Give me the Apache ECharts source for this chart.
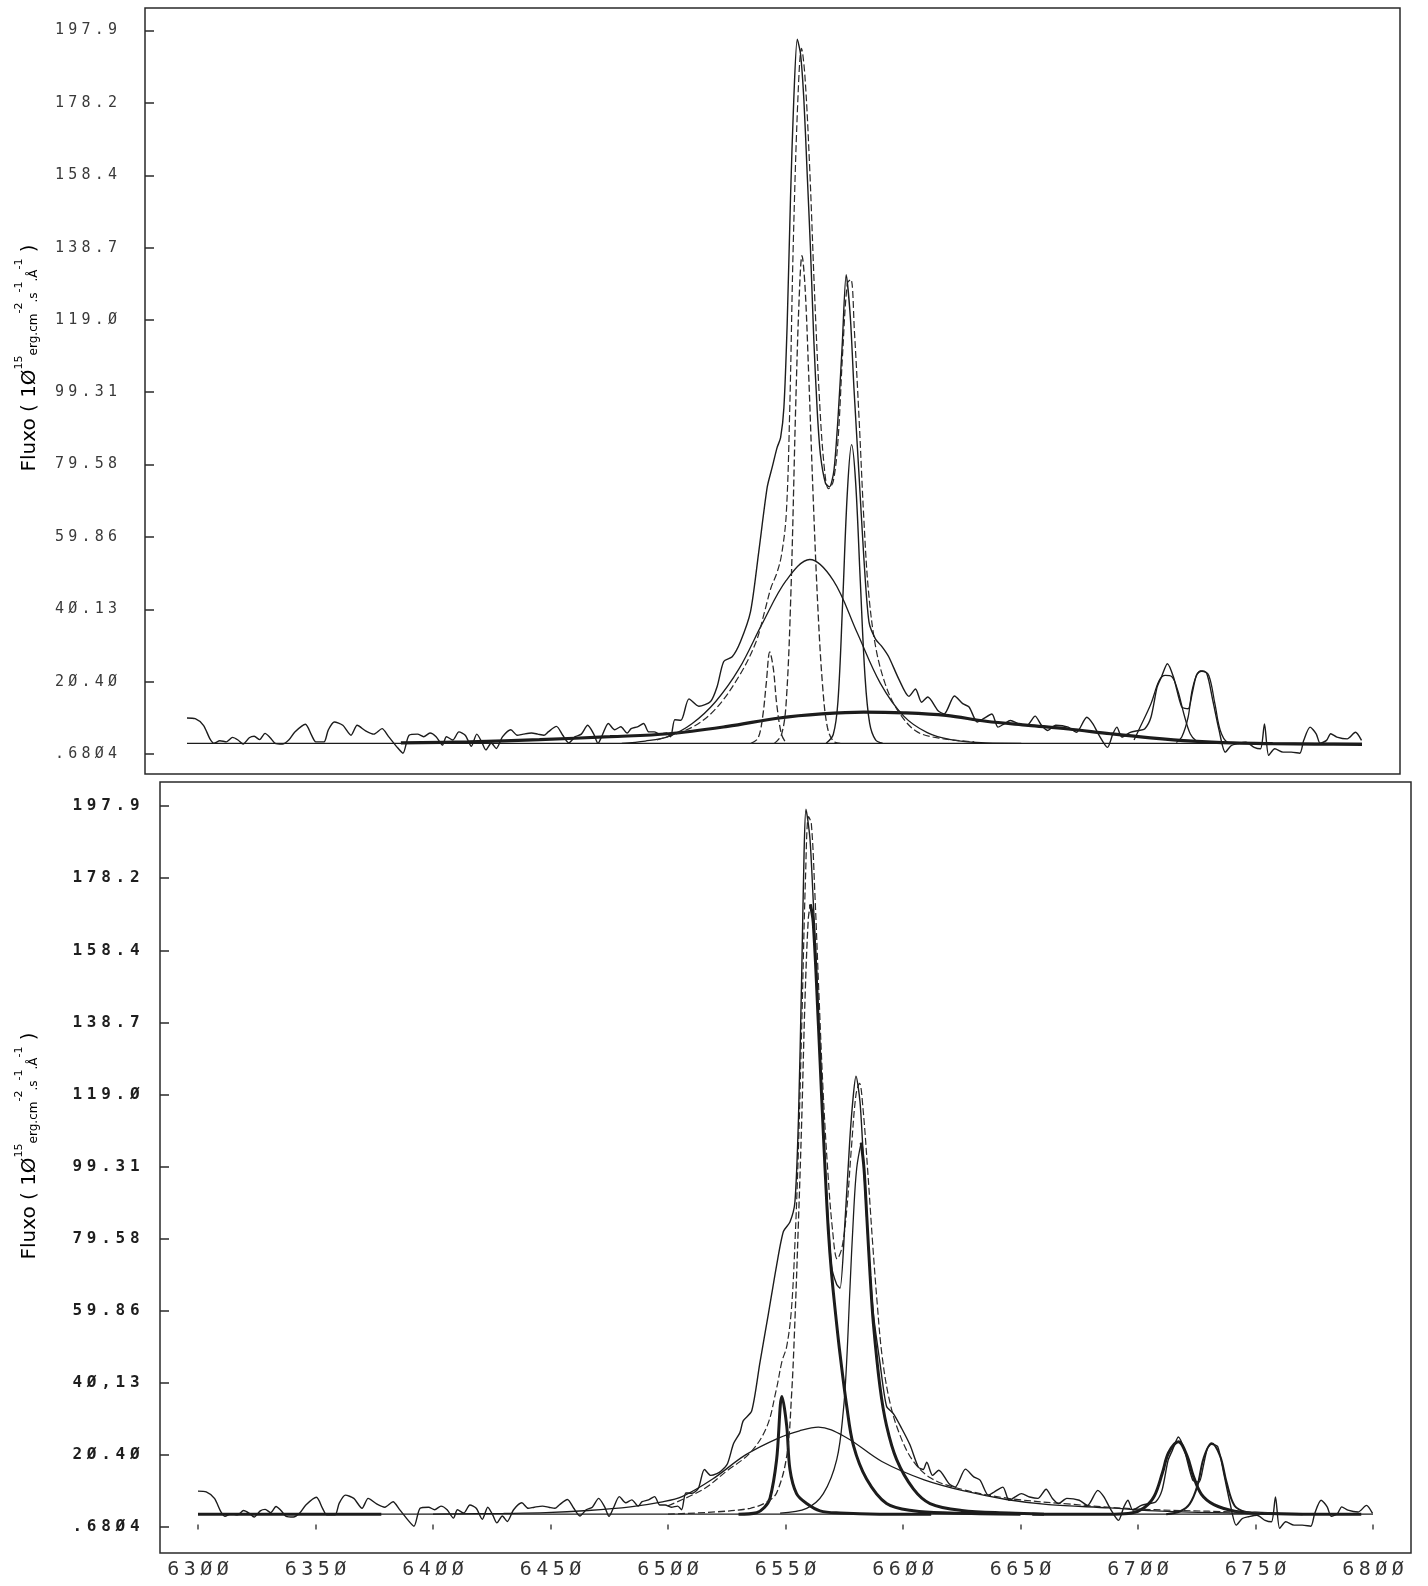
<!DOCTYPE html>
<html>
<head>
<meta charset="utf-8">
<script src="https://cdn.jsdelivr.net/npm/echarts@6/dist/echarts.min.js"></script>
<style>
  html, body { margin: 0; padding: 0; background: #ffffff; }
  #chart { width: 1428px; height: 1586px; }
</style>
</head>
<body>
<div id="chart"></div>
<script>
// ---- tick values and printed tick labels ----
const yTickValues = [0.6804, 20.40, 40.13, 59.86, 79.58, 99.31, 119.0, 138.7, 158.4, 178.2, 197.9];
const yTickTextTop = ['.68Ø4', '2Ø.4Ø', '4Ø.13', '59.86', '79.58', '99.31', '119.Ø', '138.7', '158.4', '178.2', '197.9'];
const yTickTextBottom = ['.68Ø4', '2Ø.4Ø', '4Ø,13', '59.86', '79.58', '99.31', '119.Ø', '138.7', '158.4', '178.2', '197.9'];
const xTickValues = [6300, 6350, 6400, 6450, 6500, 6550, 6600, 6650, 6700, 6750, 6800];
const xTickText = ['63ØØ', '635Ø', '64ØØ', '645Ø', '65ØØ', '655Ø', '66ØØ', '665Ø', '67ØØ', '675Ø', '68ØØ'];

// ---- observed spectrum [wavelength (Å), flux] ----
// blue continuum (same in both fits)
const obsBlue = [[6300,10.5],[6303.5,10.3],[6307,8.5],[6309.7,4.9],[6311.5,3.6],[6314,4.3],[6316.8,4.0],[6319.4,5.2],[6321.7,4.5],[6323.9,3.4],[6326.5,5.1],[6328.6,5.5],[6330.9,4.6],[6333.2,6.3],[6335.3,5.2],[6337.5,3.6],[6340.6,3.4],[6343.3,4.5],[6345.9,6.7],[6350.4,8.8],[6353,5.8],[6354.8,4.0],[6358.3,4.0],[6360.1,7.2],[6362.7,9.4],[6366.3,8.5],[6369.8,5.8],[6372.4,8.5],[6376,7.0],[6379.5,6.1],[6383,7.6],[6385.7,5.5],[6389.2,2.7],[6391.9,0.9],[6394.5,5.8],[6398.1,6.1],[6400.7,5.4],[6403.4,6.4],[6406,5.4],[6408.7,3.1],[6410.4,5.4],[6413.1,4.5],[6415.7,6.7],[6418.4,5.8],[6421,2.8],[6423.3,6.1],[6425.4,4.0],[6427.2,1.8],[6429.5,3.7],[6431.6,2.2],[6434.3,5.4],[6437.8,7.3],[6440.5,5.8],[6443.1,6.1],[6446.6,6.4],[6449.3,6.1],[6451.9,5.8],[6453.7,6.7],[6457.2,8.2],[6459.9,5.8],[6462.5,3.7],[6465.2,5.4],[6467.8,6.1],[6470.5,8.5],[6473.1,6.1],[6474.9,3.6],[6476.7,5.8],[6479.3,9.0],[6482,7.3],[6484.6,8.1],[6487.3,6.4],[6489,7.6],[6491.7,8.1],[6494.3,9.0],[6496.5,6.7],[6498.8,6.7],[6501.4,6.1],[6504.1,6.4],[6505.8,5.4],[6507.6,10.0],[6510.2,9.9]];
// Hα + [NII] region, upper plot
const obsCoreTop = [[6513.6,15.7],[6517.8,13.7],[6522.8,15.0],[6525.6,19.1],[6528.4,25.9],[6532,27.2],[6535.5,31.3],[6539.8,39.5],[6543.3,55.8],[6546.9,73.4],[6549,78.8],[6551.1,84.2],[6552.6,86.9],[6554,95.1],[6555.4,118],[6556.8,152],[6558.2,179],[6559.7,195.5],[6561.1,191.4],[6562.5,179],[6563.9,159],[6565.3,138.5],[6566.7,114],[6568.2,94],[6569.6,82],[6571.7,74.5],[6573.4,73.5],[6575.3,78],[6577.1,93],[6578.8,112],[6580.5,131.3],[6582.3,119.5],[6583.8,100.5],[6585.9,77.5],[6588,54.4],[6590.2,36.7],[6593,32],[6595.8,29.9],[6598.6,27.2],[6602.9,21.1],[6607.2,16.4],[6610,18.4]];
// Hα + [NII] region, lower plot
const obsCoreBottom = [[6512.9,11.2],[6515.5,16.4],[6518.2,14.8],[6520.8,15.3],[6522.6,16.0],[6525.3,18.0],[6527.9,23.5],[6530.6,26.5],[6532,29.7],[6535.6,32.4],[6539.1,45.6],[6542.7,58.9],[6546.2,72.2],[6549.1,81.5],[6551.9,84.1],[6554,89.5],[6555.5,112],[6556.9,152],[6557.9,185],[6558.7,197],[6560.4,189],[6561.8,172],[6563.3,152],[6565.4,119],[6567.5,92],[6569.6,72],[6571.8,67],[6573.2,66],[6575.3,84],[6577.4,107],[6578.9,119],[6580,124],[6581.7,117],[6583.1,102],[6585.2,78],[6587.4,59],[6590.2,45.6],[6593,33.7],[6595.9,31.7],[6599.4,27.7],[6603,23.1],[6606.5,17.1],[6608.6,16.4],[6610.1,18.4]];
// red side with [SII] (same in both fits)
const obsRed = [[6612.6,14.8],[6615.2,16.2],[6619.6,12.5],[6622.2,11.6],[6626.6,16.5],[6630.1,14.4],[6632.8,13.5],[6636.3,9.4],[6638.9,10.3],[6642.5,11.6],[6645.1,8.0],[6647.7,8.9],[6650.4,9.8],[6653.9,8.9],[6657.4,8.5],[6660.9,11.0],[6663.6,8.5],[6666.2,7.1],[6669.7,8.5],[6675,8.0],[6678.5,6.6],[6682.9,10.7],[6685.5,8.9],[6688.2,5.7],[6691.7,2.5],[6694,6.2],[6695.7,8.0],[6697.8,5.3],[6701.4,6.6],[6704.9,7.1],[6707.5,7.5],[6710.2,10.7],[6712.8,18.9],[6714.6,21.6],[6717.2,25.3],[6719.8,21.6],[6723.3,13.5],[6726,13.0],[6727.7,17.1],[6729.5,22.1],[6731.3,23.3],[6733.9,22.7],[6736.5,15.3],[6739.2,7.1],[6741.8,1.2],[6744.4,3.0],[6747.1,3.5],[6750.6,3.9],[6754.1,2.5],[6756.8,2.1],[6758.5,8.9],[6760.3,0.3],[6762.9,2.1],[6766.4,1.2],[6769.9,1.2],[6773.5,0.9],[6775.2,4.4],[6777.9,8.0],[6780.5,6.2],[6782.2,3.6],[6784.9,4.4],[6786.7,6.2],[6789.3,5.3],[6793.7,4.8],[6797.2,6.6],[6799.8,4.4]];

// ---- upper plot: gaussian components ----
const baseTop = [[6300,3.6],[6800,3.6]];
const wideTop = [[6391,3.7],[6420,4.0],[6450,4.6],[6480,5.4],[6505,6.2],[6530,8.2],[6552,10.5],[6570,11.6],[6588,12.1],[6605,11.9],[6623,11.2],[6640,9.6],[6658,8.5],[6675,7.5],[6693,6.2],[6710,5.1],[6728,4.2],[6745,3.7],[6762,3.5],[6780,3.4],[6800,3.3]];
const broadHaTop = [[6485,3.6],[6495,4.2],[6505,5.5],[6515,9],[6525,15],[6535,24],[6545,36.5],[6555,48],[6565,53.7],[6575,48],[6585,34],[6595,20],[6605,11],[6615,6.5],[6625,4.6],[6640,3.7],[6655,3.6]];
const nii6548Top = [[6540,3.6],[6543,5],[6545,11],[6546.5,20],[6548,28.5],[6549.5,24],[6551,14],[6553,6],[6555,3.6]];
const haNarrowTop = [[6550,3.6],[6553,6],[6555,15],[6557,45],[6559,95],[6560.5,125],[6561.7,136.5],[6563,128],[6564.5,105],[6566.5,70],[6568.5,40],[6570.5,19],[6572.5,8],[6575,4.2],[6578,3.6]];
const nii6583Top = [[6572,3.6],[6575,6],[6577,15],[6579,42],[6581,72],[6582.8,85],[6584.5,75],[6586.5,48],[6588.5,22],[6590.5,9],[6593,4.5],[6596,3.6]];
const sii6717Top = [[6703,4.5],[6704.9,7.1],[6710.2,14.4],[6713.7,20.7],[6716.3,22.1],[6719,21.8],[6721.6,18],[6724.2,11.6],[6726.9,6.2],[6729.5,4.2],[6732,3.6]];
const sii6731Top = [[6721,3.8],[6723.3,5.3],[6726,10.7],[6727.7,18],[6729.9,22.5],[6732.1,23.3],[6734.8,22.1],[6737.4,14.4],[6739.7,7.1],[6742.7,3.9],[6746,3.6]];
const sumTop = [[6500,4.5],[6515,8],[6525,13],[6535,22],[6542,31],[6546,40],[6548.5,46],[6551,50],[6553,55],[6555,66],[6556.5,95],[6558,140],[6560,180],[6561.5,193],[6563,185],[6565,160],[6567,127],[6569,99],[6571,80],[6573,73],[6575,75],[6577,86],[6579,110],[6581,129],[6582.5,130],[6584,116],[6586,92],[6588,65],[6590,45],[6593,30],[6597,20],[6602,13],[6610,7],[6620,5],[6635,4]];

// ---- lower plot: lorentzian components ----
const baseBottom = [[6300,4.2],[6800,4.2]];
const wingBottom = [[6300,4.2],[6378,4.2]];
const broadHaBottom = [[6400,4.2],[6430,4.4],[6448,4.6],[6466,5.2],[6484,6.2],[6497,7.5],[6506,9],[6519,13.8],[6533,20.4],[6547,25],[6556,27],[6564,28],[6576,25.1],[6591,18.6],[6609,13.6],[6627,10.4],[6644,8.2],[6662,6.8],[6688,5.9],[6710,5],[6740,4.5],[6770,4.3]];
const nii6548Bottom = [[6530,4.2],[6537.7,4.6],[6541,6],[6543.4,8.5],[6546.2,19],[6548.5,36.4],[6550.5,28.4],[6551.9,16.4],[6554.7,9.8],[6559,7.1],[6564.7,5.1],[6573.2,4.5],[6590,4.2],[6612,4.2]];
const haNarrowBottom = [[6500,4.2],[6520,4.8],[6535,5.8],[6542,7.5],[6546.2,10],[6550.5,20],[6552.6,37],[6554,57],[6555.5,84],[6556.9,112],[6558.3,145],[6559.7,167],[6560.6,171],[6561.8,166],[6564,138],[6565.4,118],[6566.8,99],[6568.2,82],[6569.6,70],[6571.8,56],[6573.2,48],[6576,34],[6578.9,23],[6584.5,13.8],[6593,7.1],[6604.4,5.1],[6620,4.5],[6650,4.2]];
const nii6583Bottom = [[6547.7,4.5],[6559,5.8],[6566.1,9.8],[6571.8,19.1],[6574.6,32.4],[6576,45.6],[6577.4,65.6],[6578.9,85.5],[6580.3,98.8],[6582.2,105.8],[6583.4,98.8],[6584.6,85.5],[6586,69.5],[6587.4,56.3],[6590.2,39],[6593,28.4],[6597.3,19.1],[6604.4,11.1],[6611.5,7.1],[6625,5.2],[6645,4.5],[6660,4.2]];
const sii6717Bottom = [[6655,4.2],[6690,4.2],[6697.2,4.5],[6702.5,5.9],[6706.9,9.1],[6710.4,15.5],[6713,21],[6717.2,24],[6720.9,20.1],[6723.5,14.7],[6727,9.6],[6732.3,6.8],[6741.1,5],[6750,4.5],[6770,4.2],[6795,4.2]];
const sii6731Bottom = [[6712,4.2],[6718,5],[6722,7],[6725.3,12],[6727.9,19.5],[6731.3,23.6],[6735,20],[6737.7,12.9],[6741.1,6.5],[6746,4.8],[6755,4.3],[6770,4.2]];
const sumBottom = [[6500,6.5],[6515,11],[6525,16],[6535,21],[6542,28],[6546,38],[6548.5,46],[6550.5,50],[6552.5,60],[6554,78],[6555.5,104],[6557,140],[6558.5,178],[6559.8,195],[6561,193],[6562.5,174],[6564,150],[6566,120],[6568,98],[6570,82],[6572,74],[6574,77],[6576,87],[6578,104],[6580,119],[6581.5,122],[6583,115],[6585,98],[6587,79],[6589,62],[6591,48],[6594,36],[6598,27],[6604,19],[6612,14],[6625,11],[6645,8.5],[6670,7],[6700,5.6],[6730,5],[6760,4.5]];

// ---- assemble ----
const obsTop = obsBlue.concat(obsCoreTop, obsRed);
const obsBottom = obsBlue.concat(obsCoreBottom, obsRed);

function peakIndex(arr) {
  let k = 0;
  arr.forEach((p, i) => { if (p[1] > arr[k][1]) k = i; });
  return k;
}

const INK = '#1c1c1c';
function line(data, panel, width, opts) {
  return Object.assign({
    type: 'line',
    xAxisIndex: panel,
    yAxisIndex: panel,
    data: data,
    showSymbol: false,
    symbol: 'none',
    silent: true,
    animation: false,
    smooth: 0.35,
    lineStyle: { color: INK, width: width, type: 'solid' }
  }, opts || {});
}
function dashed(data, panel, width) {
  return line(data, panel, width, { lineStyle: { color: '#2a2a2a', width: width, type: [7, 3] } });
}

const kHa = peakIndex(haNarrowBottom);
const kN2 = peakIndex(nii6583Bottom);

// plotter-style labels: every character sits in a fixed-width cell
const labelFont = 'DejaVu Sans Mono, Liberation Mono, monospace';
function cells(s) {
  return s.split('').map(ch => '{c|' + ch + '}').join('');
}
function yLabel(texts) {
  return function (v) {
    for (let i = 0; i < yTickValues.length; i++) {
      if (Math.abs(v - yTickValues[i]) < 0.05) return cells(texts[i]);
    }
    return '';
  };
}
function yAxis(panel, min, max, texts, bold, margin, cellW, size) {
  return {
    type: 'value', gridIndex: panel, min: min, max: max,
    axisLine: { show: false },
    splitLine: { show: false },
    axisTick: { show: true, inside: true, length: 9, customValues: yTickValues,
      lineStyle: { color: '#2a2a2a', width: 1.5 } },
    axisLabel: { show: true, customValues: yTickValues, formatter: yLabel(texts), margin: margin,
      rich: { c: { width: cellW, align: 'center', fontFamily: labelFont, fontSize: size,
        fontWeight: bold ? 'bold' : 'normal', color: bold ? '#1e1e1e' : '#3a3a3a' } } }
  };
}

const titleRich = {
  n: { fontFamily: 'DejaVu Sans', fontSize: 20, color: '#333', verticalAlign: 'bottom', lineHeight: 26 },
  s: { fontFamily: 'DejaVu Sans', fontSize: 11, color: '#333', verticalAlign: 'top', lineHeight: 26 },
  m: { fontFamily: 'DejaVu Sans', fontSize: 12, color: '#333', verticalAlign: 'bottom', lineHeight: 26 }
};
const titleText = '{n|Fluxo ( 1Ø}{s|15}{m|erg.cm}{s|-2}{m|.s}{s|-1}{m|.Å}{s|-1}{n| )}';

const option = {
  backgroundColor: '#ffffff',
  animation: false,
  grid: [
    { left: 145, top: 8, width: 1255, height: 766, show: true, borderColor: '#2a2a2a', borderWidth: 1.5, backgroundColor: 'transparent' },
    { left: 160, top: 782, width: 1251, height: 771, show: true, borderColor: '#2a2a2a', borderWidth: 1.5, backgroundColor: 'transparent' }
  ],
  xAxis: [
    { type: 'value', gridIndex: 0, min: 6282.13, max: 6816.17,
      axisLine: { show: false }, axisTick: { show: false }, axisLabel: { show: false }, splitLine: { show: false } },
    { type: 'value', gridIndex: 1, min: 6283.83, max: 6816.17,
      axisLine: { show: false }, splitLine: { show: false },
      axisTick: { show: true, inside: true, length: 5, customValues: xTickValues, lineStyle: { color: '#444', width: 1.5 } },
      axisLabel: { show: true, customValues: xTickValues, margin: 7,
        formatter: function (v) { const i = xTickValues.indexOf(Math.round(v)); return i >= 0 ? cells(xTickText[i]) : ''; },
        rich: { c: { width: 16.5, align: 'center', fontFamily: labelFont, fontSize: 20, color: '#333' } } } }
  ],
  yAxis: [
    yAxis(0, -4.77, 204.03, yTickTextTop, false, 26, 13.2, 15),
    yAxis(1, -6.43, 204.46, yTickTextBottom, true, 18, 14.4, 16)
  ],
  graphic: [
    { type: 'text', x: 27, y: 358, rotation: Math.PI / 2, silent: true,
      style: { text: titleText, rich: titleRich, align: 'center', verticalAlign: 'middle' } },
    { type: 'text', x: 27, y: 1146, rotation: Math.PI / 2, silent: true,
      style: { text: titleText, rich: titleRich, align: 'center', verticalAlign: 'middle' } }
  ],
  series: [
    // upper plot
    line(baseTop, 0, 1.2, { smooth: false }),
    line(wideTop, 0, 3.2),
    line(broadHaTop, 0, 1.3),
    dashed(nii6548Top, 0, 1.3),
    dashed(haNarrowTop, 0, 1.3),
    line(nii6583Top, 0, 1.4),
    line(sii6717Top, 0, 1.3),
    line(sii6731Top, 0, 1.3),
    dashed(sumTop, 0, 1.2),
    line(obsTop, 0, 1.4, { smooth: 0.25 }),
    // lower plot
    line(baseBottom, 1, 1.2, { smooth: false }),
    line(wingBottom, 1, 3.0, { smooth: false }),
    line(broadHaBottom, 1, 1.3),
    line(nii6548Bottom, 1, 3.0),
    dashed(haNarrowBottom.slice(0, kHa + 1), 1, 1.3),
    line(haNarrowBottom.slice(kHa), 1, 3.0),
    line(nii6583Bottom.slice(0, kN2 + 1), 1, 1.3),
    line(nii6583Bottom.slice(kN2), 1, 3.0),
    line(sii6717Bottom, 1, 3.0),
    line(sii6731Bottom, 1, 2.0),
    dashed(sumBottom, 1, 1.2),
    line(obsBottom, 1, 1.4, { smooth: 0.25 })
  ]
};

const chart = echarts.init(document.getElementById('chart'), null, { renderer: 'canvas' });
chart.setOption(option);
</script>
</body>
</html>
